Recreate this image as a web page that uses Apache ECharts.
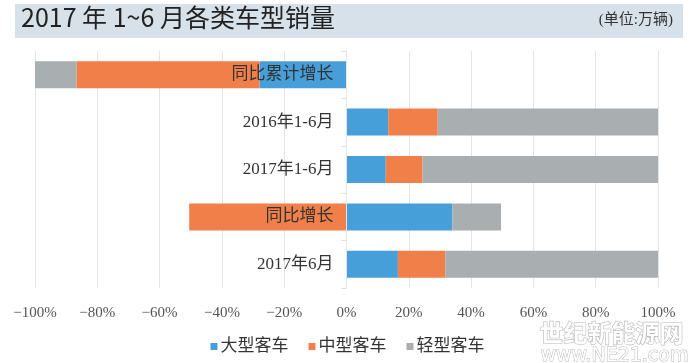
<!DOCTYPE html>
<html>
<head>
<meta charset="utf-8">
<script src="https://cdn.jsdelivr.net/npm/echarts@6/dist/echarts.min.js"></script>
<style>html,body{margin:0;padding:0;background:#fff}#c{width:695px;height:363px}</style>
</head>
<body>
<div id="c"></div>
<script>
var categories = ['同比累计增长', '2016年1-6月', '2017年1-6月', '同比增长', '2017年6月'];
var seriesNames = ['大型客车', '中型客车', '轻型客车'];
var largeBus = [-27.9, 13.4, 12.6, 34.0, 16.5];
var midBus = [-58.8, 15.9, 11.8, -50.5, 15.2];
var lightBus = [-13.3, 70.7, 75.6, 15.6, 68.3];
var xTicks = { min: -100, max: 100, step: 20 };
var titleText = '2017 年 1~6 月各类车型销量';
var unitText = '(单位:万辆)';

var colors = ['#479fd9', '#f07f49', '#a9aeb1'];
var chart = echarts.init(document.getElementById('c'), null, { renderer: 'canvas' });
var serifFont = '"Liberation Serif", "DejaVu Serif", "Noto Sans CJK SC", serif';
var dataSets = [largeBus, midBus, lightBus];
var gridLeft = 35, gridRight = 37, chartW = 695;
// place the category axis on the value-axis zero line
var plotW = chartW - gridLeft - gridRight;
var zeroOffset = -plotW * (0 - xTicks.min) / (xTicks.max - xTicks.min);
chart.setOption({
  animation: false,
  color: colors,
  grid: { left: gridLeft, right: gridRight, top: 51, height: 237, containLabel: false, outerBoundsMode: 'none' },
  xAxis: {
    type: 'value', min: xTicks.min, max: xTicks.max, interval: xTicks.step,
    axisLine: { show: false }, axisTick: { show: false },
    splitLine: { lineStyle: { color: '#e2e4e6', width: 1 } },
    axisLabel: {
      margin: 18, color: '#555', fontSize: 15, fontFamily: serifFont,
      formatter: function (v) { return (v < 0 ? '\u2212' + Math.abs(v) : v) + '%'; }
    }
  },
  yAxis: {
    type: 'category', data: categories, inverse: true, z: 10, offset: zeroOffset,
    axisLine: { show: true, onZero: false, lineStyle: { color: '#e2e4e6' } },
    axisTick: { show: true, length: 5, lineStyle: { color: '#dcdfe2' } },
    axisLabel: { margin: 13, color: '#333', fontSize: 17, fontFamily: serifFont }
  },
  legend: {
    bottom: 3, left: 'center', itemWidth: 7, itemHeight: 7, itemGap: 20,
    icon: 'rect',
    textStyle: { fontSize: 17, color: '#333', fontFamily: serifFont, padding: [0, 0, 0, -2] },
    data: seriesNames
  },
  series: seriesNames.map(function (n, i) {
    return { name: n, type: 'bar', stack: 'total', barWidth: 27, data: dataSets[i],
      itemStyle: { color: colors[i] } };
  }),
  graphic: [
    { type: 'rect', left: 15, top: 4, shape: { width: 668, height: 34 }, style: { fill: '#d6e1e9' }, z: -1 },
    { type: 'text', left: 21, top: 5, style: { text: titleText, fontSize: 25, fill: '#222', fontFamily: '"Noto Sans CJK SC", sans-serif' } },
    { type: 'text', right: 22, top: 13, style: { text: unitText, fontSize: 15, fill: '#333', fontFamily: serifFont } },
    { type: 'text', left: 539, top: 320, z: 100, style: { text: '世纪新能源网', fontSize: 24, fill: '#fff', stroke: '#b8b8b8', lineWidth: 1.2, fontFamily: '"Noto Sans CJK SC", sans-serif', fontWeight: 'bold' } },
    { type: 'text', left: 540, top: 346, z: 100, style: { text: 'www.NE21.com', fontSize: 19, fill: '#fff', stroke: '#b8b8b8', lineWidth: 1, fontFamily: '"DejaVu Sans", sans-serif' } }
  ]
});
</script>
</body>
</html>
